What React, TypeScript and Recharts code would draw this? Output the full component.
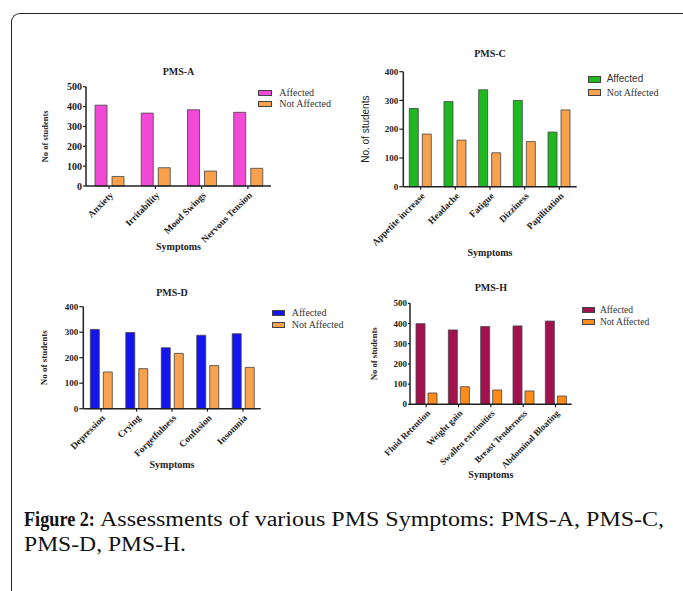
import { type CSSProperties } from 'react'
import { BarChart, Bar, XAxis, YAxis } from 'recharts'

const SERIF = '"Liberation Serif", "Times New Roman", serif'
const SANS = '"Liberation Sans", Arial, sans-serif'
const INK = '#222'

// PMS-A
const pmsACategories = ['Anxiety', 'Irritability', 'Mood Swings', 'Nervous Tension']
const pmsAAffected = [407, 367, 384, 371]
const pmsANotAffected = [48, 92, 75, 89]
const pmsATicks = [0, 100, 200, 300, 400, 500]

// PMS-C
const pmsCCategories = ['Appetite increase', 'Headache', 'Fatigue', 'Dizziness', 'Papilitation']
const pmsCAffected = [272, 296, 337, 300, 190]
const pmsCNotAffected = [183, 162, 118, 157, 267]
const pmsCTicks = [0, 100, 200, 300, 400]

// PMS-D
const pmsDCategories = ['Depression', 'Crying', 'Forgetfulness', 'Confusion', 'Insomnia']
const pmsDAffected = [311, 299, 239, 288, 294]
const pmsDNotAffected = [144, 157, 217, 169, 162]
const pmsDTicks = [0, 100, 200, 300, 400]

// PMS-H
const pmsHCategories = ['Fluid Retention', 'Weight gain', 'Swallen extrimities', 'Breast Tenderness', 'Abdominal Bloating']
const pmsHAffected = [399, 368, 385, 388, 412]
const pmsHNotAffected = [56, 87, 71, 66, 41]
const pmsHTicks = [0, 100, 200, 300, 400, 500]

const seriesNames = ['Affected', 'Not Affected']

interface LegendCfg {
  left: number
  top: number
  spacing: number
  swatchW: number
  swatchH: number
  textLeft: number
  fonts: string[]
  fontSize: number
}

interface PanelProps {
  title: string
  categories: string[]
  affected: number[]
  notAffected: number[]
  ticks: number[]
  colors: string[]
  left: number
  top: number
  width: number
  height: number
  marginTop: number
  marginRight: number
  yAxisWidth: number
  xAxisHeight: number
  barSize: number
  barGap: number
  yLabel: string
  yLabelFont: string
  yLabelSize: number
  yLabelWeight: number
  yLabelOffset: number
  xLabelOffset: number
  yTickSize: number
  yTickFont: number
  xTickFont: number
  titleY: number
  legend: LegendCfg
}

function Panel(p: PanelProps) {
  const data = p.categories.map((name, i) => ({
    name,
    affected: p.affected[i],
    notAffected: p.notAffected[i],
  }))
  const plotW = p.width - p.yAxisWidth - p.marginRight

  const titleStyle: CSSProperties = {
    position: 'absolute',
    left: p.yAxisWidth,
    width: plotW,
    top: p.titleY - 7,
    height: 14,
    lineHeight: '14px',
    textAlign: 'center',
    fontFamily: SERIF,
    fontWeight: 700,
    fontSize: 10,
    color: INK,
  }

  return (
    <div style={{ position: 'absolute', left: p.left, top: p.top, width: p.width, height: p.height }}>
      <div style={titleStyle}>{p.title}</div>
      <BarChart
        width={p.width}
        height={p.height}
        data={data}
        margin={{ top: p.marginTop, right: p.marginRight, bottom: 0, left: 0 }}
        barSize={p.barSize}
        barGap={p.barGap}
      >
        <XAxis
          dataKey="name"
          interval={0}
          height={p.xAxisHeight}
          angle={-45}
          textAnchor="end"
          tickSize={3}
          axisLine={{ stroke: INK, strokeWidth: 1.5 }}
          tickLine={{ stroke: INK, strokeWidth: 1.2 }}
          tick={{ fontSize: p.xTickFont, fontFamily: SERIF, fontWeight: 700, fill: INK }}
          label={{
            value: 'Symptoms',
            position: 'insideBottom',
            offset: p.xLabelOffset,
            fontSize: 10,
            fontFamily: SERIF,
            fontWeight: 700,
            fill: INK,
          }}
        />
        <YAxis
          type="number"
          width={p.yAxisWidth}
          domain={[0, p.ticks[p.ticks.length - 1]]}
          ticks={p.ticks}
          interval={0}
          tickSize={p.yTickSize}
          tickMargin={1}
          axisLine={{ stroke: INK, strokeWidth: 1.5 }}
          tickLine={{ stroke: INK, strokeWidth: 1.2 }}
          tick={{ fontSize: p.yTickFont, fontFamily: SERIF, fontWeight: 700, fill: INK }}
          label={{
            value: p.yLabel,
            angle: -90,
            position: 'insideLeft',
            offset: p.yLabelOffset,
            fontSize: p.yLabelSize,
            fontFamily: p.yLabelFont,
            fontWeight: p.yLabelWeight,
            fill: INK,
            style: { textAnchor: 'middle' },
          }}
        />
        <Bar dataKey="affected" name={seriesNames[0]} fill={p.colors[0]} stroke="#444" strokeWidth={0.8} isAnimationActive={false} />
        <Bar dataKey="notAffected" name={seriesNames[1]} fill={p.colors[1]} stroke="#444" strokeWidth={0.8} isAnimationActive={false} />
      </BarChart>
      {seriesNames.map((name, i) => {
        const cy = p.legend.top + i * p.legend.spacing
        return (
          <div key={name}>
            <div
              style={{
                position: 'absolute',
                left: p.legend.left,
                top: cy - p.legend.swatchH / 2,
                width: p.legend.swatchW,
                height: p.legend.swatchH,
                background: p.colors[i],
                border: '1px solid #444',
                boxSizing: 'border-box',
              }}
            />
            <div
              style={{
                position: 'absolute',
                left: p.legend.textLeft,
                top: cy - 7,
                height: 14,
                lineHeight: '14px',
                fontFamily: p.legend.fonts[i],
                fontSize: p.legend.fontSize,
                color: '#333',
                whiteSpace: 'nowrap',
              }}
            >
              {name}
            </div>
          </div>
        )
      })}
    </div>
  )
}

const captionLine = (left: number, top: number, scale: number): CSSProperties => ({
  position: 'absolute',
  left,
  top,
  fontFamily: SERIF,
  fontSize: 20,
  lineHeight: '25px',
  color: '#111',
  whiteSpace: 'nowrap',
  transform: `scaleX(${scale})`,
  transformOrigin: 'left top',
})

export default function App() {
  return (
    <div
      style={{
        position: 'absolute',
        left: 0,
        top: 0,
        width: 683,
        height: 591,
        overflow: 'hidden',
        background: '#fff',
      }}
    >
      <div
        style={{
          position: 'absolute',
          left: 11,
          top: 13,
          width: 680,
          height: 620,
          borderTop: '1.5px solid #222',
          borderLeft: '1.5px solid #222',
          borderTopLeftRadius: 9,
        }}
      />
      <Panel
        title="PMS-A"
        categories={pmsACategories}
        affected={pmsAAffected}
        notAffected={pmsANotAffected}
        ticks={pmsATicks}
        colors={['#f24ad6', '#f9a04c']}
        left={15}
        top={60}
        width={335}
        height={200}
        marginTop={26.7}
        marginRight={79}
        yAxisWidth={71}
        xAxisHeight={74}
        barSize={12}
        barGap={5}
        yLabel="No of students"
        yLabelFont={SERIF}
        yLabelSize={8.5}
        yLabelWeight={700}
        yLabelOffset={30}
        xLabelOffset={10.5}
        yTickSize={3}
        yTickFont={10}
        xTickFont={9.5}
        titleY={11.7}
        legend={{ left: 242.7, top: 32.7, spacing: 11.6, swatchW: 14.6, swatchH: 6, textLeft: 264.3, fonts: [SERIF, SERIF], fontSize: 10 }}
      />
      <Panel
        title="PMS-C"
        categories={pmsCCategories}
        affected={pmsCAffected}
        notAffected={pmsCNotAffected}
        ticks={pmsCTicks}
        colors={['#20b820', '#f9a24e']}
        left={345}
        top={40}
        width={335}
        height={230}
        marginTop={31.7}
        marginRight={103.3}
        yAxisWidth={58.3}
        xAxisHeight={83.3}
        barSize={9}
        barGap={4}
        yLabel="No. of students"
        yLabelFont={SANS}
        yLabelSize={10}
        yLabelWeight={400}
        yLabelOffset={20}
        xLabelOffset={14}
        yTickSize={4}
        yTickFont={9}
        xTickFont={9.5}
        titleY={14.3}
        legend={{ left: 242.7, top: 39.3, spacing: 13.4, swatchW: 13, swatchH: 6.7, textLeft: 261.7, fonts: [SANS, SERIF], fontSize: 10 }}
      />
      <Panel
        title="PMS-D"
        categories={pmsDCategories}
        affected={pmsDAffected}
        notAffected={pmsDNotAffected}
        ticks={pmsDTicks}
        colors={['#1414f0', '#f9a24e']}
        left={15}
        top={280}
        width={335}
        height={200}
        marginTop={26.7}
        marginRight={89.3}
        yAxisWidth={68.3}
        xAxisHeight={71.3}
        barSize={9}
        barGap={4}
        yLabel="No of students"
        yLabelFont={SERIF}
        yLabelSize={9}
        yLabelWeight={700}
        yLabelOffset={29}
        xLabelOffset={12}
        yTickSize={4}
        yTickFont={9}
        xTickFont={9.5}
        titleY={13}
        legend={{ left: 257.3, top: 33.3, spacing: 11.7, swatchW: 12.7, swatchH: 6, textLeft: 276.7, fonts: [SERIF, SERIF], fontSize: 10 }}
      />
      <Panel
        title="PMS-H"
        categories={pmsHCategories}
        affected={pmsHAffected}
        notAffected={pmsHNotAffected}
        ticks={pmsHTicks}
        colors={['#a3124e', '#ff8c1a']}
        left={345}
        top={280}
        width={335}
        height={210}
        marginTop={23.3}
        marginRight={108.3}
        yAxisWidth={65}
        xAxisHeight={85.7}
        barSize={9}
        barGap={3}
        yLabel="No of students"
        yLabelFont={SERIF}
        yLabelSize={8.7}
        yLabelWeight={700}
        yLabelOffset={29}
        xLabelOffset={12}
        yTickSize={2}
        yTickFont={9}
        xTickFont={9}
        titleY={8}
        legend={{ left: 237.3, top: 30, spacing: 11.7, swatchW: 12.7, swatchH: 6, textLeft: 255, fonts: [SERIF, SERIF], fontSize: 9.5 }}
      />
      <div style={{ ...captionLine(24, 507.4, 0.91), fontWeight: 700 }}>Figure 2:</div>
      <div style={captionLine(100, 507.4, 1.2)}>Assessments of various PMS Symptoms: PMS-A, PMS-C,</div>
      <div style={captionLine(24, 532.4, 1.18)}>PMS-D, PMS-H.</div>
    </div>
  )
}
